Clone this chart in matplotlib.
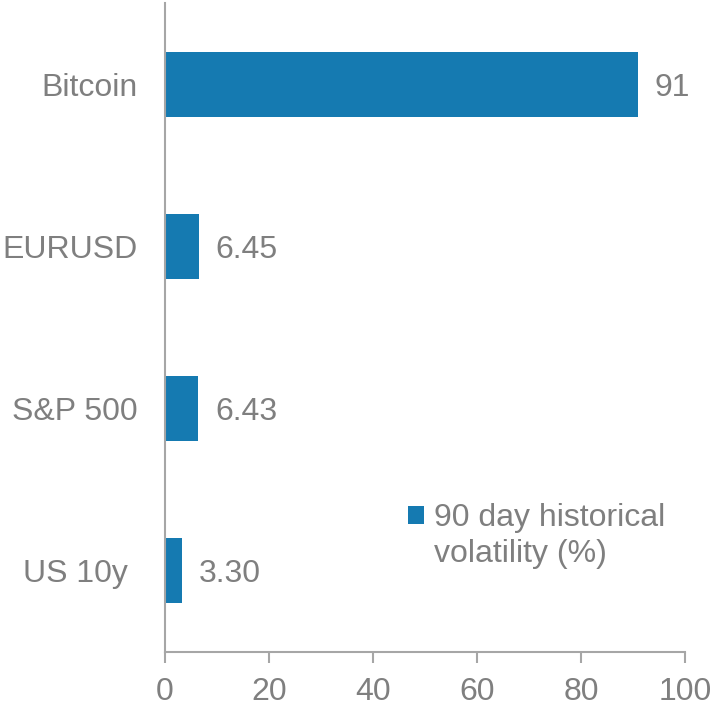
import matplotlib
matplotlib.use("Agg")
import matplotlib.pyplot as plt
from matplotlib.patches import Patch
from matplotlib.transforms import offset_copy

categories = ["Bitcoin", "EURUSD", "S&P 500", "US 10y "]
values = [91, 6.45, 6.43, 3.30]
value_labels = ["91", "6.45", "6.43", "3.30"]
x_ticks = [0, 20, 40, 60, 80, 100]
legend_line1 = "90 day historical"
legend_line2 = "volatility (%)"

plt.rcParams['font.family'] = ['Liberation Sans', 'DejaVu Sans']
W, H = 713, 707
fig = plt.figure(figsize=(W / 100, H / 100), dpi=100)
ax = fig.add_axes([165 / W, 55 / H, 520 / W, 649 / H])

bar_color = "#157ab1"
grey = "#7f7f7f"
spine_c = "#a6a6a6"
FS = 23

y = list(range(len(categories)))
ax.barh(y, values, height=0.4, color=bar_color)
ax.set_ylim(len(categories) - 0.5, -0.5)
ax.set_xlim(0, 100)
ax.set_xticks(x_ticks)
ax.set_xticklabels([str(t) for t in x_ticks])
ax.set_yticks(y)
ax.set_yticklabels(categories)
for t in ax.get_yticklabels():
    t.set_verticalalignment("center_baseline")

for yi, v, lab in zip(y, values, value_labels):
    ax.annotate(lab, xy=(v, yi), xytext=(12, 0), textcoords="offset points",
                va="center_baseline", ha="left", fontsize=FS, color=grey)

for s in ["top", "right"]:
    ax.spines[s].set_visible(False)
for s in ["left", "bottom"]:
    ax.spines[s].set_color(spine_c)
    ax.spines[s].set_linewidth(1.5)

ax.tick_params(axis="x", colors=spine_c, length=8, width=1.5, labelsize=FS,
               labelcolor=grey, pad=10)
ax.tick_params(axis="y", length=0, labelsize=FS, labelcolor=grey, pad=20)

handle = Patch(facecolor=bar_color, edgecolor="none")
leg = ax.legend([handle], [legend_line1], loc="upper left",
                bbox_to_anchor=(243 / 520, (652 - 503) / 649),
                frameon=False, fontsize=FS, handlelength=0.5, handleheight=0.5,
                handletextpad=0.3, borderpad=0, borderaxespad=0)
for t in leg.get_texts():
    t.set_color(grey)

fig.canvas.draw()
txt = leg.get_texts()[0]
bb = txt.get_window_extent()
x0, y0 = fig.transFigure.inverted().transform((bb.x0, bb.y0))
fig.text(x0, y0 - 36 / H, legend_line2, fontsize=FS, color=grey,
         ha="left", va="bottom")

fig.savefig("out.png", dpi=100)
